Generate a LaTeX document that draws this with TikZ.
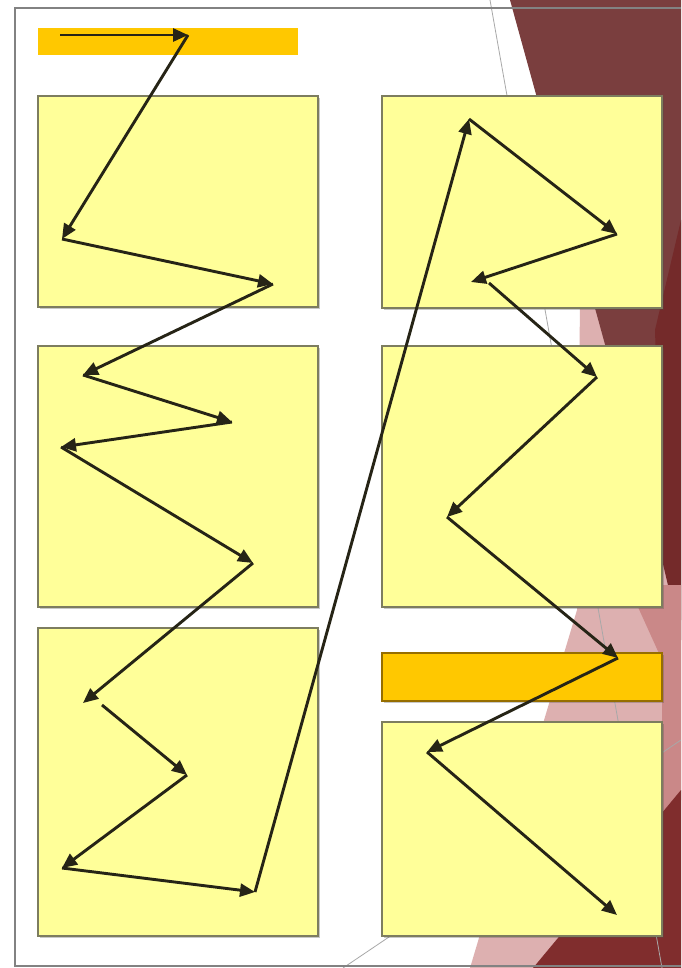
\documentclass[tikz,border=0pt]{standalone}
\usepackage{tikz}
\usetikzlibrary{positioning, arrows.meta, shadows}
\definecolor{NoteYellow}{RGB}{255,255,153}
\definecolor{NoteBorder}{RGB}{125,125,95}
\definecolor{BarGold}{RGB}{255,200,0}
\definecolor{BarBorder}{RGB}{150,110,0}
\definecolor{PathInk}{RGB}{38,36,22}
\definecolor{FrameGray}{RGB}{130,130,130}
\definecolor{Maroon}{RGB}{122,62,62}
\definecolor{DeepRed}{RGB}{116,42,42}
\definecolor{BrickRed}{RGB}{128,45,45}
\definecolor{RosePink}{RGB}{221,176,176}
\definecolor{DustPink}{RGB}{202,136,136}

\begin{document}
\begin{tikzpicture}[x=1pt, y=-1pt,
  note/.style={rectangle, draw=NoteBorder, line width=1.8pt, fill=NoteYellow, outer sep=0pt, inner sep=0pt, minimum width=280pt,
    drop shadow={shadow xshift=2pt, shadow yshift=-2pt, opacity=0.3, fill=black!70}},
  goldbar/.style={rectangle, draw=BarBorder, line width=1.8pt, fill=BarGold, outer sep=0pt, inner sep=0pt, minimum width=280pt,
    drop shadow={shadow xshift=2pt, shadow yshift=-2pt, opacity=0.3, fill=black!70}},
  topbar/.style={rectangle, fill=BarGold, outer sep=0pt, inner sep=0pt, minimum width=260pt, minimum height=27pt},
  arrow/.style={-{Triangle[length=15pt, width=13pt]}, line width=2.9pt, PathInk},
  thinline/.style={FrameGray!70, line width=0.8pt}
]

\useasboundingbox (0,0) rectangle (681,968);
\fill[white] (0,0) rectangle (681,968);

% Background facets on the right
\fill[RosePink] (560,100) -- (681,100) -- (681,968) -- (470,968) -- (565,650) -- (577,610) -- (580,300) -- cycle;
\fill[Maroon] (510,0) -- (681,0) -- (681,620) -- cycle;
\fill[DeepRed] (681,220) -- (655,330) -- (662,560) -- (681,640) -- cycle;
\fill[DustPink] (628,585) -- (681,585) -- (681,800) -- (662,823) -- (662,660) -- cycle;
\fill[BrickRed] (533,968) -- (681,790) -- (681,968) -- cycle;
\draw[thinline] (490,0) -- (662,968);
\draw[thinline] (343,968) -- (681,740);

% Slide frame
\draw[FrameGray, line width=2pt] (681,8) -- (15,8) -- (15,966) -- (681,966);

% Boxes
\node[topbar] (bar) at (168,41.5) {};
\node[note, minimum height=211pt] (left1) at (178,201.5) {};
\node[note, minimum height=261pt] (left2) at (178,476.5) {};
\node[note, minimum height=308pt] (left3) at (178,782) {};
\node[note, minimum height=212pt] (right1) at (522,202) {};
\node[note, minimum height=261pt] (right2) at (522,476.5) {};
\node[goldbar, minimum height=48pt] (right3) at (522,677) {};
\node[note, minimum height=214pt] (right4) at (522,829) {};

% Reading path
\coordinate (p0) at (60,35);
\coordinate (p1) at (188,35);
\coordinate (p2) at (62,239);
\coordinate (p3) at (273,284);
\coordinate (p4) at (83,375);
\coordinate (p5) at (232,422);
\coordinate (p6) at (61,447);
\coordinate (p7) at (253,563);
\coordinate (p8) at (83,703);
\coordinate (p8s) at (102,705);
\coordinate (p9) at (187,775);
\coordinate (p10) at (62,868);
\coordinate (p11) at (255,892);
\coordinate (p12) at (469,119);
\coordinate (p13) at (617,234);
\coordinate (p14) at (471,282);
\coordinate (p14s) at (489,283);
\coordinate (p15) at (597,377);
\coordinate (p16) at (447,517);
\coordinate (p17) at (618,658);
\coordinate (p18) at (427,752);
\coordinate (p19) at (617,915);

\draw[arrow] (p0) -- (p1);
\draw[arrow] (p1) -- (p2);
\draw[arrow] (p2) -- (p3);
\draw[arrow] (p3) -- (p4);
\draw[arrow] (p4) -- (p5);
\draw[arrow] (p5) -- (p6);
\draw[arrow] (p6) -- (p7);
\draw[arrow] (p7) -- (p8);
\draw[arrow] (p8s) -- (p9);
\draw[arrow] (p9) -- (p10);
\draw[arrow] (p10) -- (p11);
\draw[arrow] (p11) -- (p12);
\draw[arrow] (p12) -- (p13);
\draw[arrow] (p13) -- (p14);
\draw[arrow] (p14s) -- (p15);
\draw[arrow] (p15) -- (p16);
\draw[arrow] (p16) -- (p17);
\draw[arrow] (p17) -- (p18);
\draw[arrow] (p18) -- (p19);

\end{tikzpicture}
\end{document}
